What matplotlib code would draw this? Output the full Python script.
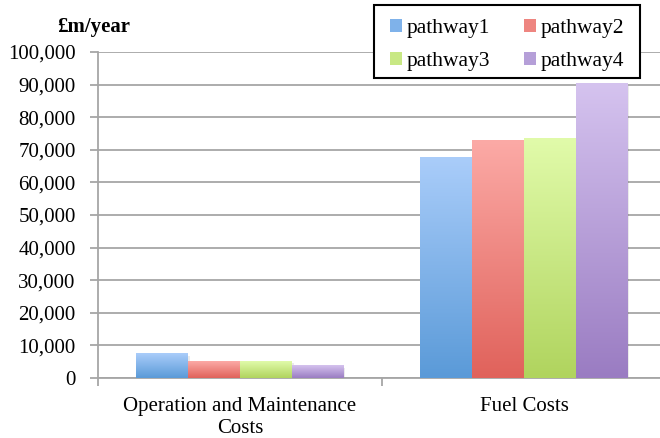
import numpy as np
import matplotlib
matplotlib.use("Agg")
import matplotlib.pyplot as plt
from matplotlib.colors import LinearSegmentedColormap
from matplotlib.patches import Patch, Rectangle
from matplotlib.ticker import FuncFormatter, MultipleLocator

plt.rcParams['font.family'] = ['Liberation Serif', 'DejaVu Serif']

# data
categories = ["Operation and Maintenance\nCosts", "Fuel Costs"]
series = ["pathway1", "pathway2", "pathway3", "pathway4"]
pathway1 = [7400, 67500]
pathway2 = [5200, 72800]
pathway3 = [5200, 73400]
pathway4 = [3700, 90200]
values = [pathway1, pathway2, pathway3, pathway4]

# gradient colours (top, bottom)
tops = ['#aacdfa', '#fcaaa6', '#e1fbaa', '#d5c3ef']
bottoms = ['#5a9ad8', '#e0625b', '#b0d45e', '#9a7cc2']
mids = ['#7fb2ea', '#ee8580', '#c8e884', '#b59fd8']

grey = '#a6a6a6'
W, H = 660, 438

fig = plt.figure(figsize=(W/100, H/100), dpi=100)
ax = fig.add_axes([98/W, (H-378)/H, 568/W, 326/H])

x = np.arange(len(categories))
w = 0.73 / len(series)

for i, vals in enumerate(values):
    cmap = LinearSegmentedColormap.from_list('g%d' % i, [bottoms[i], tops[i]])
    pos = x + (i - 1.5) * w
    bars = ax.bar(pos, vals, w, color='none', edgecolor='none', zorder=3)
    for b in bars:
        x0, h = b.get_x(), b.get_height()
        # faint shadow
        ax.add_patch(Rectangle((x0 + 0.006, -600), w, h, color='#000000',
                               alpha=0.08, lw=0, zorder=2))
        grad = np.linspace(0, 1, 256).reshape(-1, 1)
        ax.imshow(grad, extent=[x0, x0 + w, 0, h], origin='lower', cmap=cmap,
                  aspect='auto', zorder=3, interpolation='bicubic')

ax.set_xlim(-0.5, 1.5)
ax.set_ylim(0, 100000)

ax.yaxis.set_major_locator(MultipleLocator(10000))
ax.yaxis.set_major_formatter(FuncFormatter(lambda v, p: '{:,.0f}'.format(v)))
ax.grid(axis='y', color=grey, lw=1.3, zorder=0)
ax.set_axisbelow(True)

ax.set_xticks([-0.5, 0.5, 1.5])
ax.set_xticklabels([])
ax.set_xticks(x, minor=True)
ax.set_xticklabels(categories, minor=True, fontsize=15, linespacing=1.2)
ax.tick_params(axis='x', which='minor', length=0, pad=14)
ax.tick_params(axis='x', which='major', length=6, width=1.3, color=grey)
ax.tick_params(axis='y', length=6, width=1.3, color=grey, labelsize=15, pad=10)

for s in ['top', 'right']:
    ax.spines[s].set_visible(False)
for s in ['left', 'bottom']:
    ax.spines[s].set_color(grey)
    ax.spines[s].set_linewidth(1.3)

fig.text(57/W, 1 - 27/H, '£m/year', fontsize=15, fontweight='bold',
         va='center', ha='left')

# legend box drawn by hand (white, over the grid), entries placed inside it
box = (374, 5, 640, 78)
fig.patches.append(Rectangle((box[0]/W, 1 - box[3]/H),
                             (box[2]-box[0])/W, (box[3]-box[1])/H,
                             transform=fig.transFigure, facecolor='white',
                             edgecolor='black', lw=1.5, zorder=5))

# matplotlib fills legend columns first, so order as p1, p3, p2, p4
order = [0, 2, 1, 3]
handles = [Patch(facecolor=mids[k], edgecolor='none') for k in order]
labels = [series[k] for k in order]
leg = fig.legend(handles, labels, ncol=2, loc='center',
                 bbox_to_anchor=((box[0]+box[2])/2/W, 1 - 45/H),
                 fontsize=15.5, frameon=False,
                 handlelength=0.55, handleheight=0.55, handletextpad=0.2,
                 columnspacing=1.6, borderpad=0, labelspacing=0.62,
                 borderaxespad=0)
leg.set_zorder(6)

fig.savefig('out.png', dpi=100)
